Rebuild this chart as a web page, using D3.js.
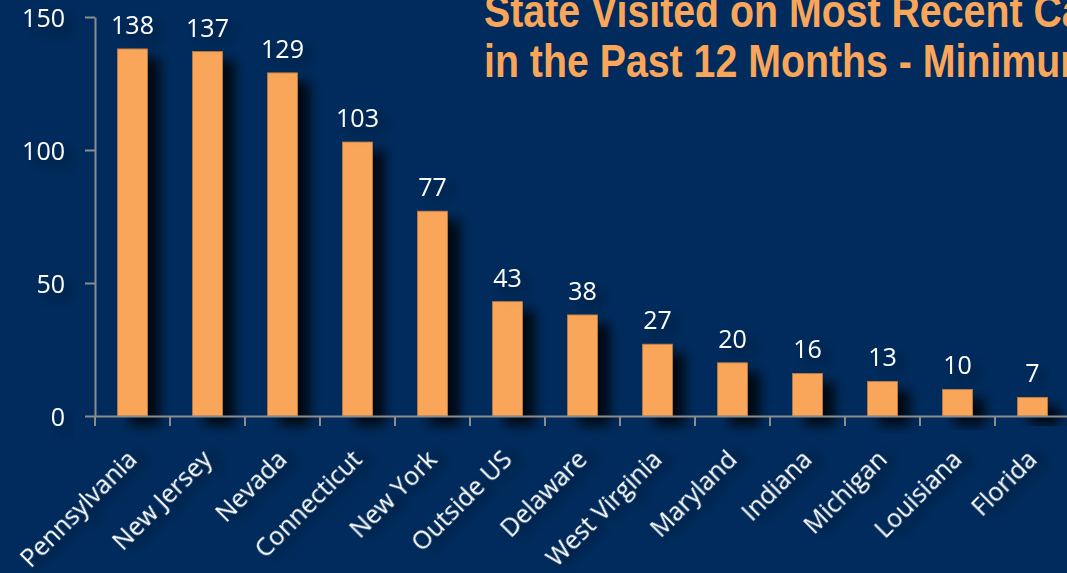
<!DOCTYPE html>
<html>
<head>
  <meta charset='utf-8'>
  <title>state visited chart</title>
  <script src="https://cdnjs.cloudflare.com/ajax/libs/d3/7.8.5/d3.min.js"></script>
  <style>
    html, body { margin: 0; padding: 0; background: #002b5c; overflow: hidden; }
  </style>
</head>
<body>
<script>
// data
const states = ['Pennsylvania', 'New Jersey', 'Nevada', 'Connecticut', 'New York', 'Outside US',
  'Delaware', 'West Virginia', 'Maryland', 'Indiana', 'Michigan', 'Louisiana', 'Florida']
const counts = [138, 137, 129, 103, 77, 43, 38, 27, 20, 16, 13, 10, 7]
const yTicks = [0, 50, 100, 150]
const titleLines = ['State Visited on Most Recent Casino Trip', 'in the Past 12 Months - Minimum']

const W = 1067, H = 573
const orange = '#f9a65a'
const labelFont = '"Open Sans", sans-serif'

const svg = d3.select('body').append('svg')
  .attr('width', W).attr('height', H)
  .style('display', 'block')

svg.append('rect').attr('width', W).attr('height', H).attr('fill', '#002b5c')

// shadows
const defs = svg.append('defs')
defs.append('filter').attr('id', 'barShadow')
  .attr('x', '-50%').attr('y', '-50%').attr('width', '300%').attr('height', '200%')
  .append('feDropShadow')
    .attr('dx', 12).attr('dy', 9).attr('stdDeviation', 6)
    .attr('flood-color', '#000').attr('flood-opacity', 0.8)
defs.append('filter').attr('id', 'textShadow')
  .attr('x', '-40%').attr('y', '-80%').attr('width', '200%').attr('height', '300%')
  .append('feDropShadow')
    .attr('dx', 7).attr('dy', 7).attr('stdDeviation', 6)
    .attr('flood-color', '#000').attr('flood-opacity', 0.5)

const margin = {left: 95, top: 17}
const step = 75

const x = d3.scaleBand()
  .domain(states)
  .range([margin.left, margin.left + step * states.length])
  .paddingInner(0.6).paddingOuter(0.3)

const y = d3.scaleLinear()
  .domain([0, 150])
  .range([416, margin.top])

// title, squeezed horizontally like a condensed face
const title = svg.append('text')
  .attr('fill', orange)
  .style('font-family', '"Liberation Sans", Arial, sans-serif')
  .style('font-weight', 'bold')
  .style('font-size', '46px')
const probe = title.append('tspan').text('in the Past 12 Months - ')
const sx = 428 / probe.node().getComputedTextLength()
probe.remove()
title.attr('transform', `translate(484,0) scale(${sx},1)`)
titleLines.forEach((t, i) => {
  title.append('tspan').attr('x', 0).attr('y', 27 + i * 50).text(t)
})

// bars
svg.append('g').selectAll('rect')
  .data(counts)
  .join('rect')
    .attr('x', (d, i) => x(states[i]))
    .attr('y', d => y(d))
    .attr('width', x.bandwidth())
    .attr('height', d => y(0) - y(d))
    .attr('fill', orange)
    .attr('stroke', '#c07c3c')
    .attr('stroke-width', 0.8)
    .attr('filter', 'url(#barShadow)')

// axes
const axisColor = '#8c8c8c'
const yAxis = svg.append('g')
  .attr('transform', `translate(${margin.left},0)`)
  .call(d3.axisLeft(y).tickValues(yTicks).tickSize(10).tickSizeOuter(0).tickPadding(20))
const xAxis = svg.append('g')
  .attr('transform', `translate(0,${y(0)})`)
  .call(d3.axisBottom(x).tickSize(0).tickSizeOuter(0).tickFormat(''))
xAxis.selectAll('.tick').remove()
// category boundary ticks
xAxis.selectAll('line.sep')
  .data(d3.range(states.length + 1))
  .join('line')
    .attr('class', 'sep')
    .attr('x1', i => margin.left + i * step).attr('x2', i => margin.left + i * step)
    .attr('y1', 0).attr('y2', 10)

;[yAxis, xAxis].forEach(a => {
  a.selectAll('path').attr('stroke', axisColor).attr('stroke-width', 2)
  a.selectAll('line').attr('stroke', axisColor).attr('stroke-width', 2)
})
yAxis.selectAll('text')
  .attr('fill', '#fff')
  .attr('dy', '0.36em')
  .style('font-family', labelFont)
  .style('font-size', '25px')
  .attr('filter', 'url(#textShadow)')

// value labels
svg.append('g').selectAll('text')
  .data(counts)
  .join('text')
    .attr('x', (d, i) => x(states[i]) + x.bandwidth() / 2)
    .attr('y', d => y(d) - 15)
    .attr('text-anchor', 'middle')
    .attr('fill', '#fff')
    .style('font-family', labelFont)
    .style('font-size', '25px')
    .attr('filter', 'url(#textShadow)')
    .text(d => d)

// category labels
svg.append('g').selectAll('text')
  .data(states)
  .join('text')
    .attr('transform', d => `translate(${x(d) + x.bandwidth() / 2 + 6},${y(0) + 45}) rotate(-45)`)
    .attr('text-anchor', 'end')
    .attr('fill', '#fff')
    .style('font-family', labelFont)
    .style('font-size', '25px')
    .attr('filter', 'url(#textShadow)')
    .text(d => d)
</script>
</body>
</html>
